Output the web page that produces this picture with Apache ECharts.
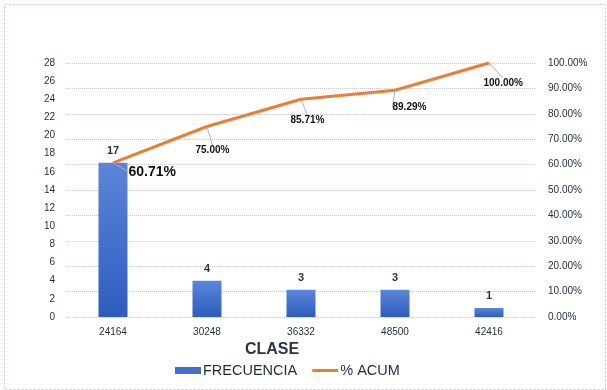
<!DOCTYPE html>
<html>
<head>
<meta charset="utf-8">
<script src="https://cdn.jsdelivr.net/npm/echarts@6/dist/echarts.min.js"></script>
<style>html,body{margin:0;padding:0;background:#fff}#c{width:607px;height:390px}</style>
</head>
<body>
<div id="c"></div>
<script>
var categories = ['24164', '30248', '36332', '48500', '42416'];
var frecuencia = [17, 4, 3, 3, 1];
var acum = [0.6071, 0.75, 0.8571, 0.8929, 1.0];
var leftTicks = {min: 0, max: 28, interval: 2};
var rightTicks = {min: 0, max: 1, interval: 0.1};
var labelShift = [[10, 9], [-17, 24], [-16, 21], [-8, 17], [-11, 20]];

var chart = echarts.init(document.getElementById('c'));
var font = 'Liberation Sans, Arial, sans-serif';
chart.setOption({
  backgroundColor: '#fff',
  animation: false,
  textStyle: {fontFamily: font},
  graphic: [{
    type: 'rect', left: 2, top: 2, silent: true,
    shape: {width: 601, height: 385},
    style: {fill: 'none', stroke: '#b8c4e4', lineWidth: 1, lineDash: [2, 2]}
  }],
  grid: {left: 66, right: 71, top: 63, bottom: 73},
  legend: {
    top: 358, left: 170, itemGap: 15,
    textStyle: {fontSize: 14.5, color: '#1f2a3a', fontFamily: font, padding: [0, 0, 0, -3]},
    data: [
      {name: 'FRECUENCIA', icon: 'rect', itemStyle: {color: '#3f6fcf'}},
      {name: '% ACUM', icon: 'path://M0,0 L26,0 L26,3 L0,3 Z', itemStyle: {color: '#ed7d31'}}
    ],
    itemWidth: 26, itemHeight: 7
  },
  xAxis: {
    type: 'category', data: categories,
    name: 'CLASE', nameLocation: 'middle', nameGap: 24,
    nameTextStyle: {fontSize: 16, fontWeight: 'bold', color: '#2b3444', fontFamily: font, padding: [0, 58, 0, 0]},
    axisLine: {show: false}, axisTick: {show: false},
    axisLabel: {fontSize: 10, color: '#1f2a3a', margin: 10}
  },
  yAxis: [{
    type: 'value', min: leftTicks.min, max: leftTicks.max, interval: leftTicks.interval,
    splitLine: {show: false}, axisLine: {show: false}, axisTick: {show: false},
    axisLabel: {fontSize: 10, color: '#1f2a3a', margin: 11}
  }, {
    type: 'value', min: rightTicks.min, max: rightTicks.max, interval: rightTicks.interval,
    position: 'right',
    splitLine: {show: true, lineStyle: {type: 'dotted', color: '#c3c6d8', width: 1}},
    axisLine: {show: false}, axisTick: {show: false},
    axisLabel: {fontSize: 10, color: '#1f2a3a', margin: 12,
      formatter: function (v) { return (v * 100).toFixed(2) + '%'; }}
  }],
  series: [{
    name: 'FRECUENCIA', type: 'bar', data: frecuencia, barWidth: 29,
    itemStyle: {color: new echarts.graphic.LinearGradient(0, 0, 0, 1, [
      {offset: 0, color: '#5c86d8'}, {offset: 1, color: '#2c5cc0'}])},
    label: {show: true, position: 'top', distance: 6, fontSize: 11, color: '#2a3444', fontWeight: 'bold'}
  }, {
    name: '% ACUM', type: 'line', yAxisIndex: 1,
    symbol: 'circle', symbolSize: 1, showSymbol: true,
    lineStyle: {color: '#ed7d31', width: 3},
    itemStyle: {color: '#ed7d31'},
    label: {
      show: true, position: 'right', distance: 5,
      fontSize: 10, fontWeight: 'bold', color: '#111',
      formatter: function (p) { return (p.value * 100).toFixed(2) + '%'; }
    },
    labelLine: {show: true, lineStyle: {color: '#a8b0c0', width: 1}},
    labelLayout: function (p) {
      var s = labelShift[p.dataIndex];
      return {dx: s[0], dy: s[1]};
    },
    data: acum.map(function (v, i) {
      return i === 0 ? {value: v, label: {fontSize: 14}} : v;
    })
  }]
});
</script>
</body>
</html>
